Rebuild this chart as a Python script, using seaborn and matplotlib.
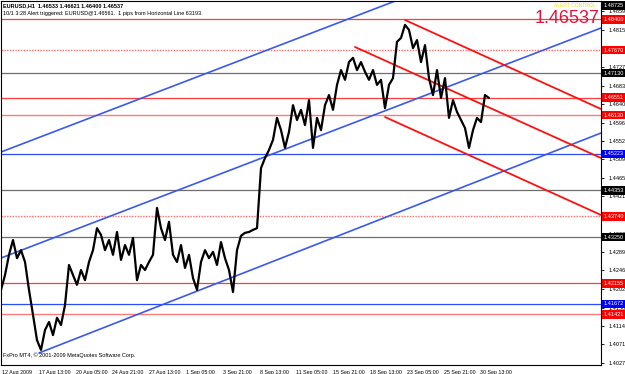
import numpy as np
import pandas as pd
import matplotlib
matplotlib.use("Agg")
import matplotlib.pyplot as plt
import seaborn as sns

# ---------------- data ----------------
close = [1.4200, 1.4235, 1.4283, 1.4318, 1.4275, 1.4294, 1.4266, 1.4200, 1.4141, 1.4081,
         1.4058, 1.4105, 1.4124, 1.4093, 1.4134, 1.4117, 1.4164, 1.4259, 1.4235, 1.4212,
         1.4247, 1.4223, 1.4266, 1.4294, 1.4346, 1.4330, 1.4294, 1.4318, 1.4283, 1.4337,
         1.4271, 1.4306, 1.4283, 1.4323, 1.4223, 1.4259, 1.4247, 1.4266, 1.4283, 1.4394,
         1.4346, 1.4318, 1.4361, 1.4283, 1.4266, 1.4306, 1.4252, 1.4283, 1.4228, 1.4200,
         1.4266, 1.4294, 1.4275, 1.4290, 1.4259, 1.4313, 1.4275, 1.4247, 1.4195, 1.4294,
         1.4328, 1.4335, 1.4337, 1.4342, 1.4346, 1.4488, 1.4512, 1.4531, 1.4555, 1.4607,
         1.4578, 1.4536, 1.4574, 1.4637, 1.4602, 1.4626, 1.4590, 1.4649, 1.4536, 1.4607,
         1.4578, 1.4637, 1.4661, 1.4626, 1.4685, 1.4720, 1.4697, 1.4739, 1.4749, 1.4720,
         1.4739, 1.4716, 1.4697, 1.4720, 1.4685, 1.4697, 1.4630, 1.4685, 1.4701, 1.4787,
         1.4796, 1.4827, 1.4815, 1.4772, 1.4791, 1.4739, 1.4779, 1.4701, 1.4661, 1.4720,
         1.4654, 1.4701, 1.4607, 1.4649, 1.4621, 1.4602, 1.4583, 1.4536, 1.4578, 1.4607,
         1.4597, 1.4661, 1.4654]

date_labels = ["12 Aug 2009", "17 Aug 13:00", "20 Aug 05:00", "24 Aug 21:00", "27 Aug 13:00",
               "1 Sep 05:00", "3 Sep 21:00", "8 Sep 13:00", "11 Sep 05:00", "15 Sep 21:00",
               "18 Sep 13:00", "23 Sep 05:00", "25 Sep 21:00", "30 Sep 13:00"]

price_ticks = [1.40270, 1.40710, 1.41140, 1.41580, 1.42020, 1.42460, 1.42890, 1.43330,
               1.43770, 1.44210, 1.44650, 1.45090, 1.45520, 1.45960, 1.46400, 1.46830,
               1.47270, 1.47710, 1.48150, 1.48590]

level_prices = [1.48400, 1.47670, 1.47130, 1.46551, 1.46130, 1.45223, 1.44353,
                1.43740, 1.43250, 1.42155, 1.41672, 1.41421]
level_kinds = ["red", "reddot", "gray", "red", "redlight", "blue", "gray",
               "reddot", "gray", "red", "blue", "redlight"]
top_label_price = 1.48725

# trend lines: (bar1, price1, bar2, price2)
blue_lines = [(0.0, 1.45262, 150.0, 1.50700),
              (0.0, 1.42754, 150.0, 1.48196),
              (9.5, 1.40507, 150.0, 1.45712)]
red_lines = [(101.0, 1.48386, 150.0, 1.46280),
             (88.5, 1.47747, 150.0, 1.45120),
             (96.0, 1.46090, 150.0, 1.43772)]

last_price = 1.46537
header1 = "EURUSD,H1  1.46533 1.46621 1.46400 1.46537"
header2 = "10/1 3:28 Alert triggered: EURUSD@1.46561.  1 pips from Horizontal Line 63193."
footer = "FxPro MT4, \u00a9 2001-2009 MetaQuotes Software Corp."

# ---------------- drawing ----------------
sns.set_style("white")
plt.rcParams["font.family"] = ["Liberation Sans", "DejaVu Sans"]

W, H = 625, 374
fig = plt.figure(figsize=(W / 100, H / 100), dpi=100)
ax = fig.add_axes([1 / W, 9 / H, 600 / W, 364 / H])

df = pd.DataFrame({"bar": np.arange(len(close)), "price": close})

line_styles = {
    "red": dict(color="#ff3c3c", lw=0.9, ls="-"),
    "reddot": dict(color="#ff6a6a", lw=1.0, ls=(0, (1, 1))),
    "redlight": dict(color="#ff7a7a", lw=1.0, ls="-"),
    "gray": dict(color="#6e6e6e", lw=0.9, ls="-"),
    "blue": dict(color="#2a4dff", lw=0.9, ls="-"),
}
box_colors = {"red": "#ff0000", "reddot": "#ff0000", "redlight": "#ff0000",
              "gray": "#000000", "blue": "#0000ff"}

for p, k in zip(level_prices, level_kinds):
    ax.axhline(p, zorder=1, **line_styles[k])

for (x1, y1, x2, y2) in blue_lines:
    ax.plot([x1, x2], [y1, y2], color="#3a5ae8", lw=1.2, zorder=2)
for (x1, y1, x2, y2) in red_lines:
    ax.plot([x1, x2], [y1, y2], color="#ff1010", lw=1.3, zorder=2)

sns.lineplot(data=df, x="bar", y="price", color="black", lw=1.6, ax=ax, zorder=3)

ax.set_xlim(0, 150)
ax.set_ylim(1.40223, 1.48835)
ax.set_xlabel("")
ax.set_ylabel("")

for s in ax.spines.values():
    s.set_color("#000000")
    s.set_linewidth(0.8)
    s.set_visible(True)

ax.yaxis.tick_right()
ax.set_yticks(price_ticks)
ax.set_yticklabels([f"{v:.5f}" for v in price_ticks])
ax.tick_params(axis="y", direction="out", length=2.5, width=0.6, pad=3,
               labelsize=4.0, colors="black")

xt = 0.25 + np.arange(len(date_labels)) * 9.2
ax.set_xticks(xt)
ax.set_xticklabels(date_labels)
ax.tick_params(axis="x", direction="out", length=2.5, width=0.6, pad=1,
               labelsize=3.8, colors="black")
for lab in ax.get_xticklabels():
    lab.set_horizontalalignment("left")

trans = ax.get_yaxis_transform()
for p, k in zip(level_prices, level_kinds):
    ax.text(1.004, p, f"{p:.5f}", transform=trans, ha="left", va="center",
            fontsize=4.0, color="white", clip_on=False, zorder=10,
            bbox=dict(boxstyle="square,pad=0.3", fc=box_colors[k], ec="none"))
ax.text(1.004, top_label_price, f"{top_label_price:.5f}", transform=trans, ha="left",
        va="center", fontsize=4.0, color="white", clip_on=False, zorder=10,
        bbox=dict(boxstyle="square,pad=0.3", fc="#000000", ec="none"))

ax.text(0.004, 0.988, header1, transform=ax.transAxes, ha="left", va="center",
        fontsize=4.0, color="black", fontweight="bold")
ax.text(0.004, 0.967, header2, transform=ax.transAxes, ha="left", va="center",
        fontsize=4.0, color="black")
ax.text(0.004, 0.027, footer, transform=ax.transAxes, ha="left", va="center",
        fontsize=4.0, color="black")
ax.text(0.998, 0.953, f"{last_price:.5f}", transform=ax.transAxes, ha="right",
        va="center", fontsize=13, color="#e0143c", zorder=11)
ax.text(0.99, 0.988, "ALERT CONTROL", transform=ax.transAxes, ha="right", va="center",
        fontsize=3.6, color="#e8e000", zorder=11)

fig.savefig("out.png", dpi=100)
